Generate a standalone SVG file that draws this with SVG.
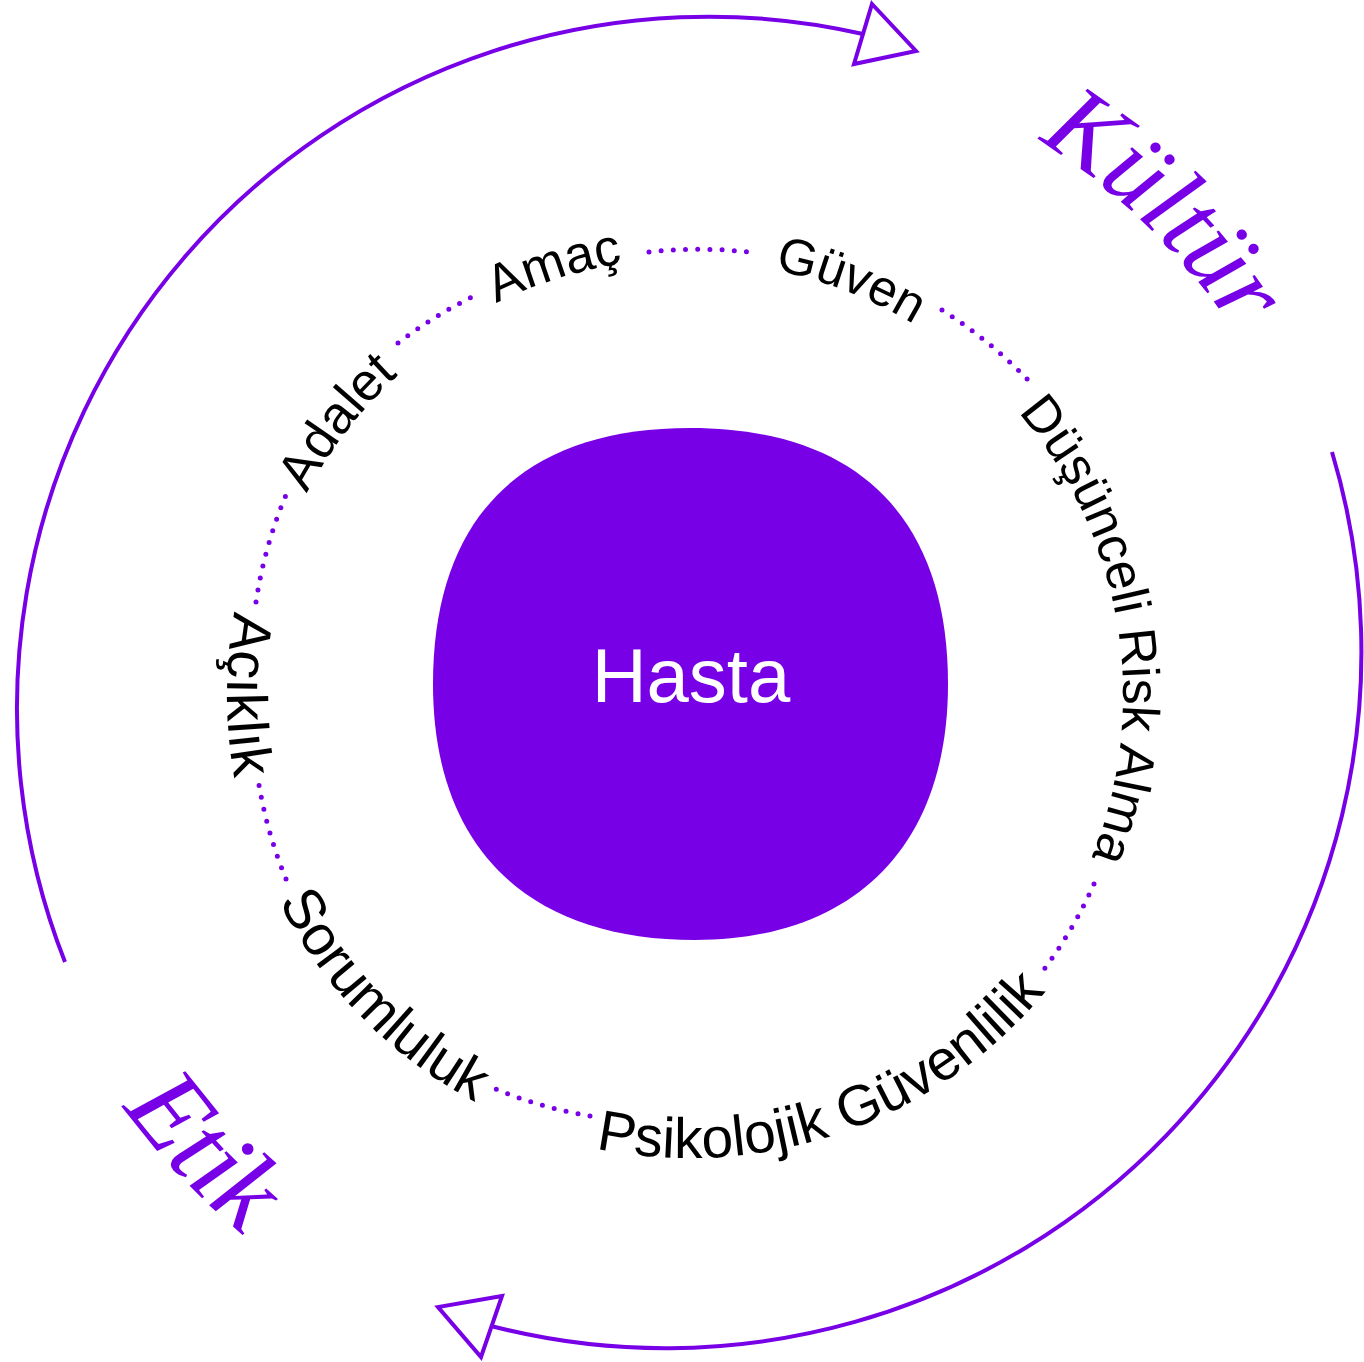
<svg xmlns="http://www.w3.org/2000/svg" xmlns:xlink="http://www.w3.org/1999/xlink" width="1364" height="1362" viewBox="0 0 1364 1362">
  <style>
    .lbl { font-family: "Liberation Sans", Arial, sans-serif; fill: #000000; }
    .big { font-family: "Liberation Serif", "Times New Roman", serif; font-style: italic; fill: #7700E6; }
    .dots { fill: none; stroke: #7700E6; stroke-width: 5; stroke-linecap: round; stroke-dasharray: 0 12.2; }
    .outer { fill: none; stroke: #7700E6; stroke-width: 4; }
    .head { fill: #FFFFFF; stroke: #7700E6; stroke-width: 4; stroke-linejoin: miter; }
  </style>
  <defs>
    <path id="t433" d="M 315 478.5 A 433 433 0 0 1 1065 478.5"/>
    <path id="t437" d="M 311.6 476.5 A 437 437 0 0 1 1068.4 476.5"/>
    <path id="b463" d="M 289 926.5 A 463 463 0 0 0 1091 926.5"/>
    <path id="b460" d="M 291.6 925 A 460 460 0 0 0 1088.4 925"/>
    <path id="t655" d="M 122.8 367.5 A 655 655 0 0 1 1257.2 367.5"/>
    <path id="b701" d="M 82.9 1045.5 A 701 701 0 0 0 1297.1 1045.5"/>
  </defs>
  <rect width="1364" height="1362" fill="#FFFFFF"/>

  <g id="connectors">
    <path class="outer" d="M 65 962 A 692 692 0 0 1 863 34"/>
    <polygon class="head" points="872,4 916,51 854,64"/>
    <path class="outer" d="M 1332 452 A 696 696 0 0 1 491 1326"/>
    <polygon class="head" points="502,1296 438,1307 481,1357"/>
    <path class="dots" d="M 398 343 A 455 455 0 0 1 474 296"/>
    <path class="dots" d="M 649 252 A 446 446 0 0 1 748 252"/>
    <path class="dots" d="M 942 310 A 461 461 0 0 1 1029 381"/>
    <path class="dots" d="M 1094 884 A 447 447 0 0 1 1042 972"/>
    <path class="dots" d="M 590 1116 A 436 436 0 0 1 493 1088"/>
    <path class="dots" d="M 286 879 A 444 444 0 0 1 259 785"/>
    <path class="dots" d="M 256 602 A 446 446 0 0 1 286 495"/>
  </g>

  <g id="hasta">
    <path d="M 690 428 C 860 428 948 520 948 684 C 948 850 850 940 695 940 C 530 940 433 850 433 684 C 433 515 525 428 690 428 Z" fill="#7700E6"/>
    <text x="691" y="702" font-family="Liberation Sans, Arial, sans-serif" font-size="76" fill="#FFFFFF" text-anchor="middle">Hasta</text>
  </g>

  <g id="label-adalet" transform="rotate(-52.3 690 695)">
    <text class="lbl" font-size="53" text-anchor="middle"><textPath xlink:href="#t433" href="#t433" startOffset="50%">Adalet</textPath></text>
  </g>
  <g id="label-amac" transform="rotate(-17.6 690 695)">
    <text class="lbl" font-size="52" text-anchor="middle"><textPath xlink:href="#t437" href="#t437" startOffset="50%">Amaç</textPath></text>
  </g>
  <g id="label-guven" transform="rotate(21.2 690 695)">
    <text class="lbl" font-size="51" text-anchor="middle"><textPath xlink:href="#t433" href="#t433" startOffset="50%">Güven</textPath></text>
  </g>
  <g id="label-dusunceli" transform="rotate(80.6 690 695)">
    <text class="lbl" font-size="52" text-anchor="middle"><textPath xlink:href="#t433" href="#t433" startOffset="50%">Düşünceli Risk Alma</textPath></text>
  </g>
  <g id="label-psikolojik" transform="rotate(-19.2 690 695)">
    <text class="lbl" font-size="57" text-anchor="middle"><textPath xlink:href="#b463" href="#b463" startOffset="50%">Psikolojik Güvenlilik</textPath></text>
  </g>
  <g id="label-sorumluluk" transform="rotate(45.6 690 695)">
    <text class="lbl" font-size="57" text-anchor="middle"><textPath xlink:href="#b460" href="#b460" startOffset="50%">Sorumluluk</textPath></text>
  </g>
  <g id="label-aciklik" transform="rotate(90 690 695)">
    <text class="lbl" font-size="57" text-anchor="middle"><textPath xlink:href="#b463" href="#b463" startOffset="50%">Açıklık</textPath></text>
  </g>
  <g id="label-kultur" transform="rotate(44.2 690 695)">
    <text class="big" font-size="106" text-anchor="middle"><textPath xlink:href="#t655" href="#t655" startOffset="50%">Kültür</textPath></text>
  </g>
  <g id="label-etik" transform="rotate(46.8 690 695)">
    <text class="big" font-size="110" text-anchor="middle"><textPath xlink:href="#b701" href="#b701" startOffset="50%">Etik</textPath></text>
  </g>
</svg>
